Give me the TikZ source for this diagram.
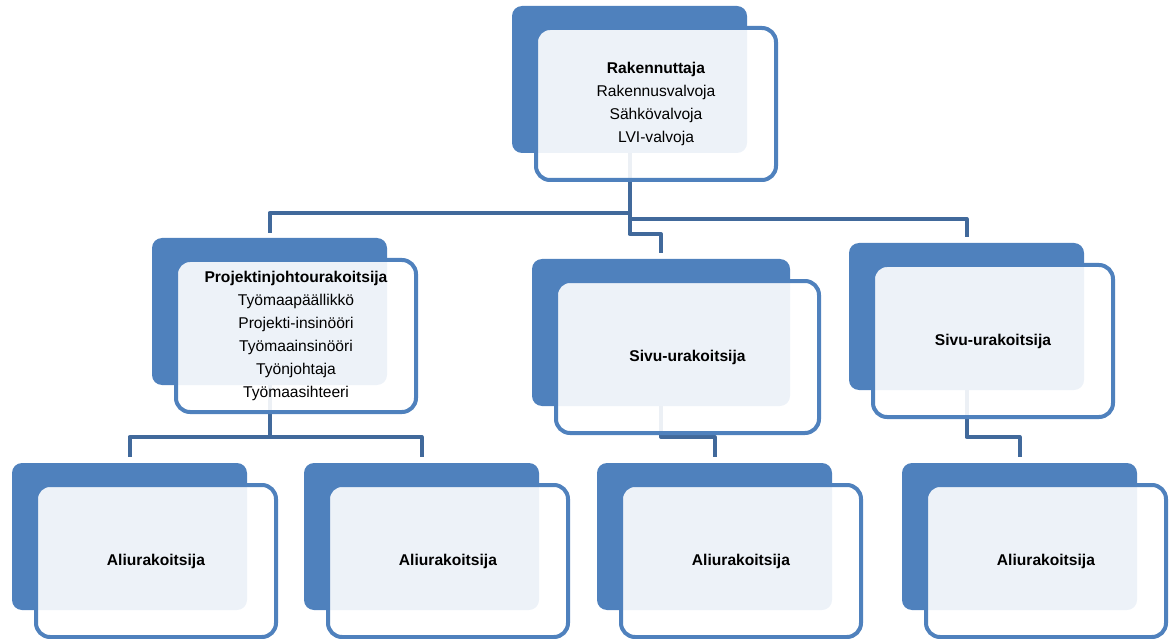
\documentclass[tikz,border=0pt]{standalone}
\usepackage{fontspec}
\setmainfont{Liberation Sans}
\usetikzlibrary{calc}
\definecolor{boxblue}{HTML}{4F81BD}
\definecolor{connblue}{HTML}{41699B}
\pgfdeclarelayer{bg}
\pgfsetlayers{bg,main}
\tikzset{
  backbox/.style={fill=boxblue, draw=none, rounded corners=10pt, minimum height=147pt, inner sep=0pt},
  frontbox/.style={draw=boxblue, line width=4pt, fill=white, fill opacity=0.9, text opacity=1,
    rounded corners=14pt, minimum height=152pt, inner sep=0pt, align=center,
    font=\fontsize{15.6}{23}\selectfont},
  conn/.style={draw=connblue, line width=4pt, line join=round}
}
\newcommand\orgbox[5]{%
  \node[backbox, minimum width={#4*1pt}] (#1b) at (#2+#4/2, #3+73.5) {};
  \node[frontbox, minimum width={(#4+5)*1pt}] (#1) at (#2+26.5+#4/2, #3+98) {#5};
}
\begin{document}
\begin{tikzpicture}[x=1pt,y=-1pt]
\useasboundingbox (0,0) rectangle (1173,639);
\orgbox{R}{512}{6}{235}{\textbf{Rakennuttaja}\\Rakennusvalvoja\\Sähkövalvoja\\LVI-valvoja}
\orgbox{P}{152}{238}{235}{\textbf{Projektinjohtourakoitsija}\\Työmaapäällikkö\\Projekti-insinööri\\Työmaainsinööri\\Työnjohtaja\\Työmaasihteeri}
\orgbox{S}{532}{259}{258}{\textbf{Sivu-urakoitsija}}
\orgbox{T}{849}{243}{235}{\textbf{Sivu-urakoitsija}}
\orgbox{A}{12}{463}{235}{\textbf{Aliurakoitsija}}
\orgbox{B}{304}{463}{235}{\textbf{Aliurakoitsija}}
\orgbox{C}{597}{463}{235}{\textbf{Aliurakoitsija}}
\orgbox{D}{902}{463}{235}{\textbf{Aliurakoitsija}}
\begin{pgfonlayer}{bg}
\coordinate (yRP) at (0,213);
\coordinate (yRT) at (0,219);
\coordinate (yRS) at (0,234);
\coordinate (yLow) at (0,437);
\draw[conn] (Rb.center) -- (Rb.center |- yRP) -| ($(Pb.north)+(0,-5)$);
\draw[conn] (Rb.center) -- (Rb.center |- yRT) -| ($(Tb.north)+(0,-6)$);
\draw[conn] (Rb.center) -- (Rb.center |- yRS) -| ($(Sb.north)+(0,-6)$);
\draw[conn] (Pb.center) -- (Pb.center |- yLow) -| ($(Ab.north)+(0,-6)$);
\draw[conn] (Pb.center |- yLow) -| ($(Bb.north)+(0,-6)$);
\draw[conn] (Sb.center) -- (Sb.center |- yLow) -| ($(Cb.north)+(0,-6)$);
\draw[conn] (Tb.center) -- (Tb.center |- yLow) -| ($(Db.north)+(0,-6)$);
\end{pgfonlayer}
\end{tikzpicture}
\end{document}
